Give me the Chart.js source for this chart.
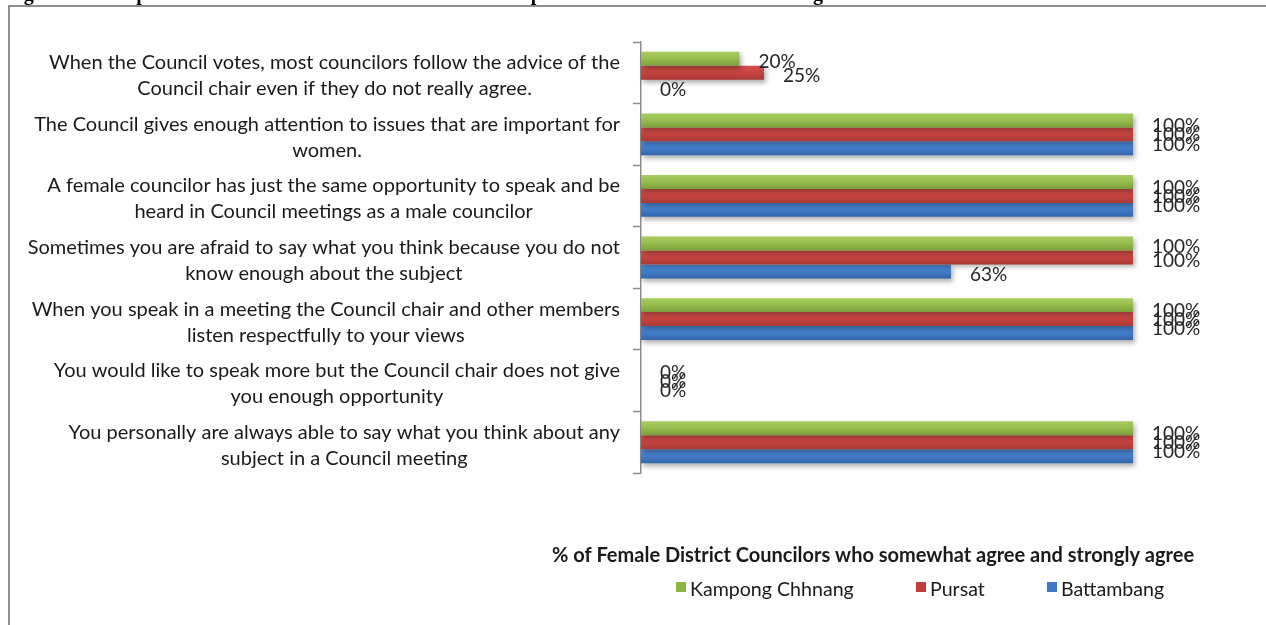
<!DOCTYPE html>
<html>
<head>
<meta charset="utf-8">
<title>Female District Councilors – Council meetings</title>
<script src="https://cdn.jsdelivr.net/npm/chart.js@4.4.1/dist/chart.umd.min.js"></script>
<style>
  html, body { margin: 0; padding: 0; background: #ffffff; }
  #wrap { position: relative; width: 1266px; height: 625px; overflow: hidden; }
  #frame {
    position: absolute; left: 8px; top: 5px; width: 1300px; height: 700px;
    border-top: 2px solid #8f8f8f; border-left: 2px solid #8f8f8f;
  }
  #chart { position: absolute; left: 0; top: 0; }
</style>
</head>
<body>
<div id="wrap">
  <div id="frame"></div>
  <canvas id="chart" width="1266" height="625"></canvas>
</div>
<script>
// Survey statements (one entry per bar group, split into display lines)
const categories = [
  ['When the Council votes, most councilors follow the advice of the', 'Council chair even if they do not really agree.'],
  ['The Council gives enough attention to issues that are important for', 'women.'],
  ['A female councilor has just the same opportunity to speak and be', 'heard in Council meetings as a male councilor'],
  ['Sometimes you are afraid to say what you think because you do not', 'know enough about the subject'],
  ['When you speak in a meeting the Council chair and other members', 'listen respectfully to your views'],
  ['You would like to speak more but the Council chair does not give', 'you enough opportunity'],
  ['You personally are always able to say what you think about any', 'subject in a Council meeting']
];

// Share of councilors who agree, per province (%)
const kampongChhnang = [20, 100, 100, 100, 100, 0, 100];
const pursat         = [25, 100, 100, 100, 100, 0, 100];
const battambang     = [0, 100, 100, 63, 100, 0, 100];

const seriesNames = ['Kampong Chhnang', 'Pursat', 'Battambang'];
const axisTitle = '% of Female District Councilors who somewhat agree and strongly agree';
const captionText = 'Figure 3: Perception of Female Councilors about their Participation in District Council Meetings';

const CAT_PCT = 0.68;
const LABEL_FONT = 'Lato, "Open Sans", sans-serif';

// vertical shading for each bar, computed from its slot in the group
function barFill(top, mid, bottom) {
  return (c) => {
    const chart = c.chart;
    const ys = chart.scales && chart.scales.y;
    if (!ys || c.type !== 'data' || !isFinite(ys.height)) return mid;
    const band = ys.height / categories.length;
    const thick = band * CAT_PCT / 3;
    const centre = ys.getPixelForValue(c.dataIndex) + (c.datasetIndex - 1) * thick;
    const g = chart.ctx.createLinearGradient(0, centre - thick / 2, 0, centre + thick / 2);
    g.addColorStop(0, top);
    g.addColorStop(0.45, mid);
    g.addColorStop(1, bottom);
    return g;
  };
}

const palette = [
  { top: '#a8cc5f', mid: '#98bf50', bottom: '#7c9f3a', key: '#8db446' },
  { top: '#d4504b', mid: '#c94440', bottom: '#a93835', key: '#c23e3b' },
  { top: '#4e8ad6', mid: '#437ecb', bottom: '#3366ab', key: '#3f78c4' }
];

const seriesData = [kampongChhnang, pursat, battambang];

// soft drop shadow under the bars
const barShadow = {
  id: 'barShadow',
  beforeDatasetsDraw(chart) {
    const ctx = chart.ctx;
    ctx.save();
    ctx.shadowColor = 'rgba(0,0,0,0.32)';
    ctx.shadowBlur = 5;
    ctx.shadowOffsetX = 2;
    ctx.shadowOffsetY = 3;
  },
  afterDatasetsDraw(chart) {
    chart.ctx.restore();
  }
};

// value labels, statement labels, caption, axis title and legend
const annotations = {
  id: 'annotations',
  afterDraw(chart) {
    const ctx = chart.ctx;
    const ys = chart.scales.y;
    ctx.save();

    // percentage labels beside bars
    ctx.font = '19px ' + LABEL_FONT;
    ctx.fillStyle = '#262626';
    ctx.textAlign = 'left';
    ctx.textBaseline = 'middle';
    for (let i = 0; i < categories.length; i++) {
      const vals = seriesData.map(s => s[i]);
      const same = vals.every(v => v === vals[0]);
      const mid = chart.getDatasetMeta(1).data[i].y;
      chart.data.datasets.forEach((ds, d) => {
        const bar = chart.getDatasetMeta(d).data[i];
        const y = same ? mid + (bar.y - mid) * 0.65 + 1 : bar.y + 3;
        ctx.fillText(ds.data[i] + '%', bar.x + 19, y);
      });
    }

    // statement labels: lines centred, block right-aligned to the axis
    ctx.font = '20px ' + LABEL_FONT;
    ctx.fillStyle = '#1a1a1a';
    ctx.textAlign = 'center';
    const rightEdge = ys.left - 13;
    categories.forEach((lines, i) => {
      const widest = Math.max(...lines.map(l => ctx.measureText(l).width));
      const cx = rightEdge - widest / 2;
      const cy = ys.getPixelForValue(i) + 3;
      lines.forEach((l, k) => {
        ctx.fillText(l, cx, cy + (k - (lines.length - 1) / 2) * 26);
      });
    });

    // caption line at the very top
    ctx.font = 'bold 20px "Liberation Serif", serif';
    ctx.fillStyle = '#000';
    ctx.textAlign = 'left';
    ctx.textBaseline = 'alphabetic';
    ctx.fillText(captionText, 6, -0.5);

    // axis title
    ctx.font = 'bold 20px ' + LABEL_FONT;
    ctx.fillStyle = '#1a1a1a';
    ctx.textAlign = 'center';
    ctx.textBaseline = 'middle';
    ctx.fillText(axisTitle, 873, 556);

    // legend
    ctx.font = '19.6px ' + LABEL_FONT;
    ctx.textAlign = 'left';
    const keyX = [676, 916, 1047];
    chart.data.datasets.forEach((ds, d) => {
      ctx.fillStyle = palette[d].key;
      ctx.fillRect(keyX[d], 582, 10, 10);
      ctx.fillStyle = '#1a1a1a';
      ctx.fillText(ds.label, keyX[d] + 14, 590);
    });

    ctx.restore();
  }
};

new Chart(document.getElementById('chart'), {
  type: 'bar',
  data: {
    labels: categories,
    datasets: seriesData.map((values, d) => ({
      label: seriesNames[d],
      data: values,
      backgroundColor: barFill(palette[d].top, palette[d].mid, palette[d].bottom),
      borderWidth: 0,
      categoryPercentage: CAT_PCT,
      barPercentage: 1.0,
      clip: false
    }))
  },
  options: {
    indexAxis: 'y',
    responsive: false,
    animation: false,
    layout: { padding: { left: 633, right: 133, top: 42, bottom: 152 } },
    plugins: {
      legend: { display: false },
      tooltip: { enabled: false }
    },
    scales: {
      x: { display: false, min: 0, max: 100 },
      y: {
        display: true,
        offset: true,
        grid: {
          display: true, drawOnChartArea: false, drawTicks: true,
          tickLength: 8, tickWidth: 1.5, color: '#8c8c8c', offset: true
        },
        border: { display: true, color: '#8c8c8c', width: 1.5 },
        ticks: { display: false }
      }
    }
  },
  plugins: [barShadow, annotations]
});
</script>
</body>
</html>
